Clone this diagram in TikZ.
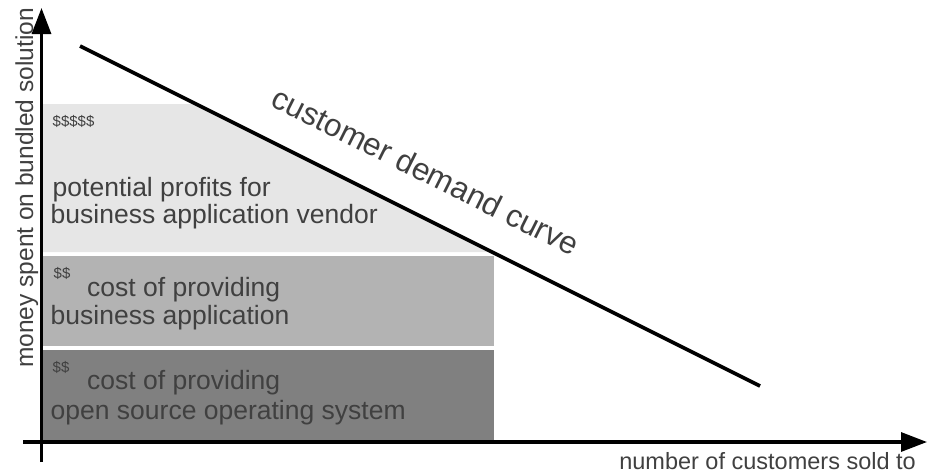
\documentclass[tikz,border=0pt]{standalone}
\usepackage{fontspec}
\setmainfont{Liberation Sans}
\usetikzlibrary{arrows.meta}
\definecolor{txtgray}{HTML}{404040}
\definecolor{lightfill}{HTML}{E6E6E6}
\definecolor{midfill}{HTML}{B3B3B3}
\definecolor{darkfill}{HTML}{808080}
\begin{document}
\begin{tikzpicture}[x=1pt,y=-1pt,
  bodytxt/.style={text=txtgray, inner sep=0pt, font=\fontsize{26.5}{26.7}\selectfont, anchor=base west},
  dollar/.style={text=txtgray, inner sep=0pt, font=\fontsize{15}{15}\selectfont, anchor=base west},
  axislbl/.style={text=txtgray, inner sep=0pt, font=\fontsize{24.5}{24.5}\selectfont},
  axisline/.style={line width=3.2pt, -{Triangle[length=26pt,width=19pt]}},
]
\useasboundingbox (0,0) rectangle (927,474);
% areas
\fill[lightfill] (43,104) -- (196,104) -- (492,252) -- (43,252) -- cycle;
\fill[midfill] (43,256) rectangle (494,346);
\fill[darkfill] (43,350) rectangle (494,441);
% axes
\coordinate (xs) at (23,442);
\coordinate (xe) at (927,442);
\coordinate (ys) at (41.5,462);
\coordinate (ye) at (41.5,8);
\draw[axisline] (xs) -- (xe);
\draw[axisline] (ys) -- (ye);
% demand curve
\coordinate (d1) at (80,46);
\coordinate (d2) at (760,386);
\draw[line width=3.6pt] (d1) -- (d2);
\node[axislbl, font=\fontsize{31.5}{31.5}\selectfont, anchor=base, rotate=-26.565] (curve) at (421,181) {customer demand curve};
% labels
\node[dollar] (d5) at (52.5,126) {\$\$\$\$\$};
\node[bodytxt] (p1) at (52.5,196.5) {potential profits for};
\node[bodytxt] (p2) at (50.5,223) {business application vendor};
\node[dollar] (d2a) at (53.5,278) {\$\$};
\node[bodytxt] (b1) at (87,296) {cost of providing};
\node[bodytxt] (b2) at (50.5,324) {business application};
\node[dollar] (d2b) at (52.5,372) {\$\$};
\node[bodytxt] (o1) at (87,389.5) {cost of providing};
\node[bodytxt] (o2) at (50.5,419) {open source operating system};
% axis labels
\node[axislbl, anchor=base, rotate=90] (ylab) at (33,188) {money spent on bundled solution};
\node[axislbl, font=\fontsize{23.5}{23.5}\selectfont, anchor=base east] (xlab) at (916,469) {number of customers sold to};
\end{tikzpicture}
\end{document}
